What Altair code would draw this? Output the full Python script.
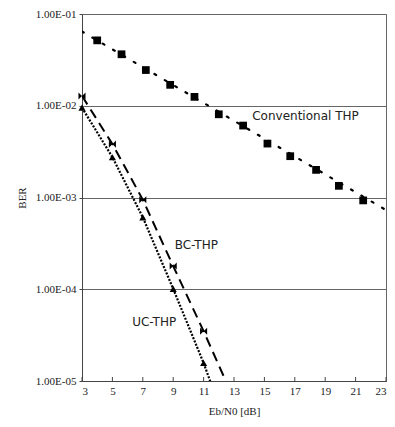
import altair as alt
import pandas as pd

# ---- data ----
conv_x = [4.0, 5.6, 7.2, 8.8, 10.4, 12.0, 13.6, 15.2, 16.7, 18.4, 19.9, 21.5]
conv_ber = [0.0516, 0.0364, 0.0245, 0.0169, 0.0125, 0.00807, 0.00608, 0.00387,
            0.00282, 0.0020, 0.00134, 0.00093]
conv_trend_x = [3, 23]
conv_trend_ber = [0.0645, 0.00073]

bc_x = [3, 5, 7, 9, 11]
bc_ber = [0.0128, 0.00382, 0.000946, 0.000179, 3.49e-5]
bc_line_x = [3, 5, 7, 9, 11, 13]
bc_line_ber = [0.0128, 0.00382, 0.000946, 0.000179, 3.49e-5, 6.3e-6]

uc_x = [3, 5, 7, 9, 11]
uc_ber = [0.00953, 0.00275, 0.000608, 0.000101, 1.57e-5]
uc_line_x = [3, 5, 7, 9, 11, 12]
uc_line_ber = [0.00953, 0.00275, 0.000608, 0.000101, 1.57e-5, 5.5e-6]

x_ticks = [3, 5, 7, 9, 11, 13, 15, 17, 19, 21, 23]
y_ticks = [1e-5, 1e-4, 1e-3, 1e-2, 1e-1]

label_text = ["Conventional THP", "BC-THP", "UC-THP"]
label_x = [14.2, 9.1, 6.3]
label_y = [0.0078, 0.000303, 4.37e-5]

W, H = 304, 367
SERIF = "Liberation Serif"

xs = alt.Scale(domain=[3, 23], nice=False, zero=False)
ys = alt.Scale(type="log", domain=[1e-5, 1e-1], nice=False)

X = alt.X("x:Q", scale=xs, title="Eb/N0 [dB]",
          axis=alt.Axis(values=x_ticks, ticks=False, grid=False, labelPadding=4,
                        titlePadding=9, domainColor="#444"))
Y = alt.Y("y:Q", scale=ys, title="BER",
          axis=alt.Axis(values=y_ticks, grid=True, gridColor="#666", gridWidth=1,
                        tickSize=3, tickColor="#444", domainColor="#444",
                        labelPadding=3, titlePadding=8,
                        labelExpr="'1.00E-0' + round(-log(datum.value)/LN10)"))


def df(xv, yv):
    return pd.DataFrame({"x": xv, "y": yv})


conv_line = alt.Chart(df(conv_trend_x, conv_trend_ber)).mark_line(
    color="black", strokeWidth=2.2, strokeDash=[2, 10], strokeCap="round", clip=True
).encode(x=X, y=Y)
conv_pts = alt.Chart(df(conv_x, conv_ber)).mark_point(
    shape="square", filled=True, color="black", size=60, opacity=1
).encode(x=X, y=Y)

bc_line = alt.Chart(df(bc_line_x, bc_line_ber)).mark_line(
    color="black", strokeWidth=2, strokeDash=[10, 6], clip=True
).encode(x=X, y=Y)
bc_pts = alt.Chart(df(bc_x, bc_ber)).mark_point(
    shape="M-1,-1L1,1L1,-1L-1,1Z", filled=True, color="black", size=50, opacity=1
).encode(x=X, y=Y)

uc_line = alt.Chart(df(uc_line_x, uc_line_ber)).mark_line(
    color="black", strokeWidth=2.2, strokeDash=[2, 1.5], clip=True
).encode(x=X, y=Y)
uc_pts = alt.Chart(df(uc_x, uc_ber)).mark_point(
    shape="triangle-up", filled=True, color="black", size=50, opacity=1
).encode(x=X, y=Y)

labels = alt.Chart(pd.DataFrame({"t": label_text, "x": label_x, "y": label_y})).mark_text(
    align="left", baseline="middle", font="DejaVu Sans", fontSize=12, color="#222"
).encode(x=X, y=Y, text="t:N")

tick_marks = alt.Chart(pd.DataFrame({"x": x_ticks})).mark_rule(
    color="#444", strokeWidth=1
).encode(x=X, y=alt.value(H - 4), y2=alt.value(H))

chart = alt.layer(
    conv_line, conv_pts, bc_line, bc_pts, uc_line, uc_pts, labels, tick_marks
).properties(
    width=W, height=H,
    autosize=alt.AutoSizeParams(type="none"),
    padding={"left": 74, "top": 6, "right": 1, "bottom": 40},
).configure_view(
    stroke="#666", strokeWidth=1
).configure_axis(
    labelFont=SERIF, labelFontSize=11, labelColor="#222",
    titleFont=SERIF, titleFontSize=11, titleFontWeight="normal", titleColor="#222"
)

chart.save("out.html", embed_options={"renderer": "svg", "actions": False})
